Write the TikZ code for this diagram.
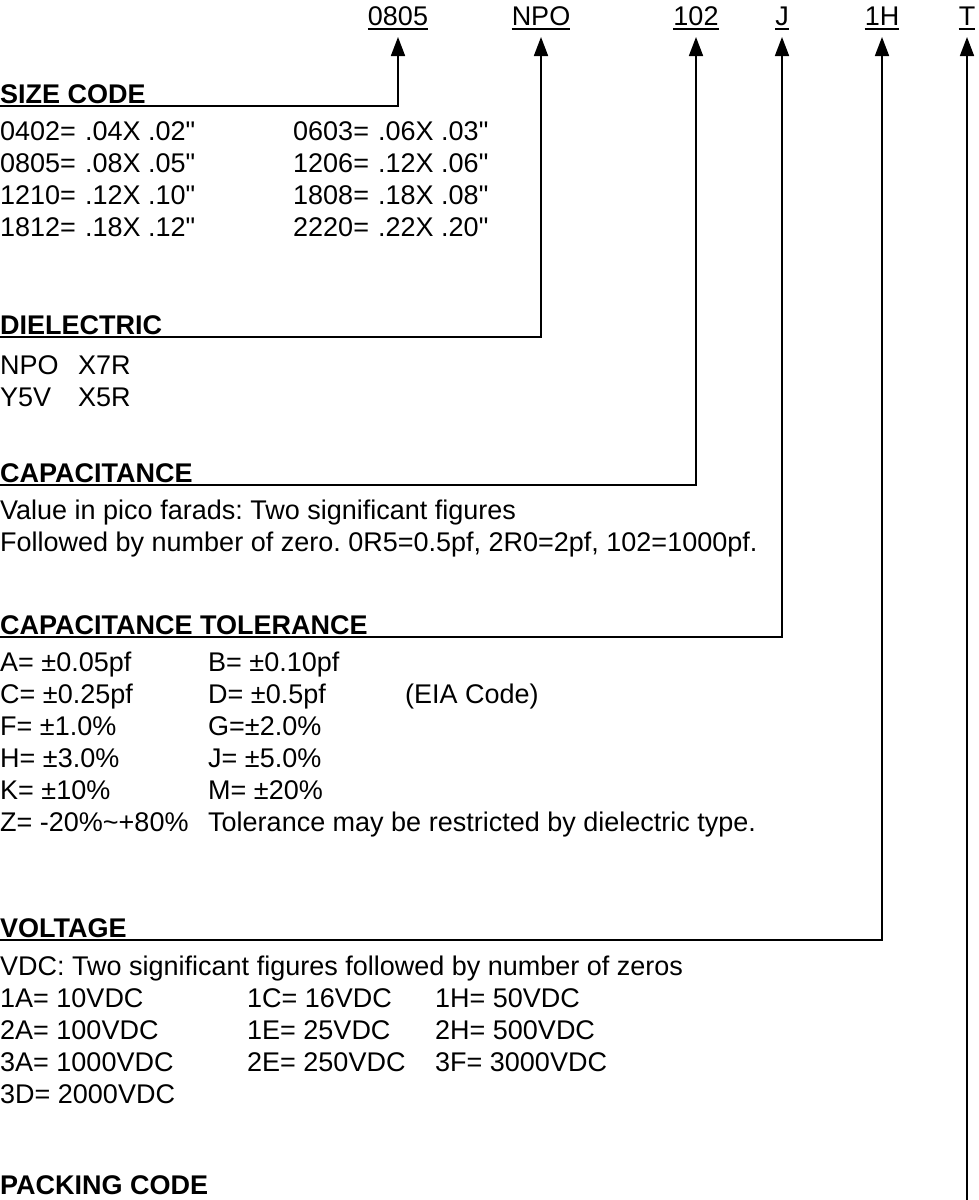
\documentclass[tikz,border=0pt]{standalone}
\usepackage{fontspec}
\setmainfont{Liberation Sans}
\usetikzlibrary{arrows.meta,positioning}

\begin{document}
\frenchspacing
\begin{tikzpicture}[x=1pt, y=-1pt, every node/.style={font=\fontsize{27}{32}\selectfont, inner sep=0pt, anchor=base west}, head/.style={font=\fontsize{27}{32}\selectfont\bfseries}, code/.style={anchor=base}, lead/.style={-{Triangle[length=19pt,width=14pt]}, line width=1.7pt}, uline/.style={line width=1.4pt}]
\useasboundingbox (0,0) rectangle (978,1200);
% part number fields
\node[code] (l0805) at (398,25) {0805};
\node[code] (lnpo) at (541,25) {NPO};
\node[code] (l102) at (696,25) {102};
\node[code] (lj) at (782,25) {J};
\node[code] (l1h) at (882,25) {1H};
\node[code] (lt) at (967,25) {T};
\foreach \n in {l0805,lnpo,l102,lj,l1h,lt}
  \draw[uline] ([yshift=-4pt]\n.base west) -- ([yshift=-4pt]\n.base east);
% section headings
\node[head] (size) at (0,103) {SIZE CODE};
\node[head] (diel) at (0,334) {DIELECTRIC};
\node[head] (cap) at (0,482) {CAPACITANCE};
\node[head] (tol) at (0,634) {CAPACITANCE TOLERANCE};
\node[head] (volt) at (0,937) {VOLTAGE};
\node[head] (pack) at (0,1194) {PACKING CODE};
% size code table
\foreach \a/\b/\c/\d [count=\i from 0] in {0402/.04X .02/0603/.06X .03, 0805/.08X .05/1206/.12X .06, 1210/.12X .10/1808/.18X .08, 1812/.18X .12/2220/.22X .20} {
  \node (sa\i) at (0,140+32*\i) {\a=};
  \node (sb\i) at (85,140+32*\i) {\b\textquotedbl};
  \node (sc\i) at (293,140+32*\i) {\c=};
  \node (sd\i) at (378,140+32*\i) {\d\textquotedbl};
}
% dielectric
\node (npo) at (0,374) {NPO};
\node (x7r) at (78,374) {X7R};
\node (y5v) at (0,406) {Y5V};
\node (x5r) at (78,406) {X5R};
% capacitance
\node (val) at (0,519) {Value in pico farads: Two significant figures};
\node (zero) at (0,551) {Followed by number of zero. 0R5=0.5pf, 2R0=2pf, 102=1000pf.};
% tolerance
\node (ta) at (0,671) {A= ±0.05pf};
\node (tb) at (208,671) {B= ±0.10pf};
\node (tc) at (0,703) {C= ±0.25pf};
\node (td) at (208,703) {D= ±0.5pf};
\node (eia) at (405,703) {(EIA Code)};
\node (tf) at (0,735) {F= ±1.0\%};
\node (tg) at (208,735) {G=±2.0\%};
\node (th) at (0,767) {H= ±3.0\%};
\node (tj) at (208,767) {J= ±5.0\%};
\node (tk) at (0,799) {K= ±10\%};
\node (tm) at (208,799) {M= ±20\%};
\node (tz) at (0,831) {Z= -20\%\textasciitilde+80\%};
\node (tnote) at (208,831) {Tolerance may be restricted by dielectric type.};
% voltage
\node (vdc) at (0,975) {VDC: Two significant figures followed by number of zeros};
\foreach \a/\b/\c [count=\i from 0] in {1A= 10VDC/1C= 16VDC/1H= 50VDC, 2A= 100VDC/1E= 25VDC/2H= 500VDC, 3A= 1000VDC/2E= 250VDC/3F= 3000VDC} {
  \node (va\i) at (0,1007+32*\i) {\a};
  \node (vb\i) at (247,1007+32*\i) {\b};
  \node (vc\i) at (435,1007+32*\i) {\c};
}
\node (va3) at (0,1103) {3D= 2000VDC};
% leaders from headings up to the fields
\draw[lead] ([yshift=-3pt]size.base west) -| ([yshift=-12pt]l0805.base);
\draw[lead] ([yshift=-3pt]diel.base west) -| ([yshift=-12pt]lnpo.base);
\draw[lead] ([yshift=-3pt]cap.base west) -| ([yshift=-12pt]l102.base);
\draw[lead] ([yshift=-3pt]tol.base west) -| ([yshift=-12pt]lj.base);
\draw[lead] ([yshift=-3pt]volt.base west) -| ([yshift=-12pt]l1h.base);
\coordinate (tfoot) at (967,1200);
\draw[lead] (tfoot) -- ([yshift=-12pt]lt.base);
\end{tikzpicture}
\end{document}
